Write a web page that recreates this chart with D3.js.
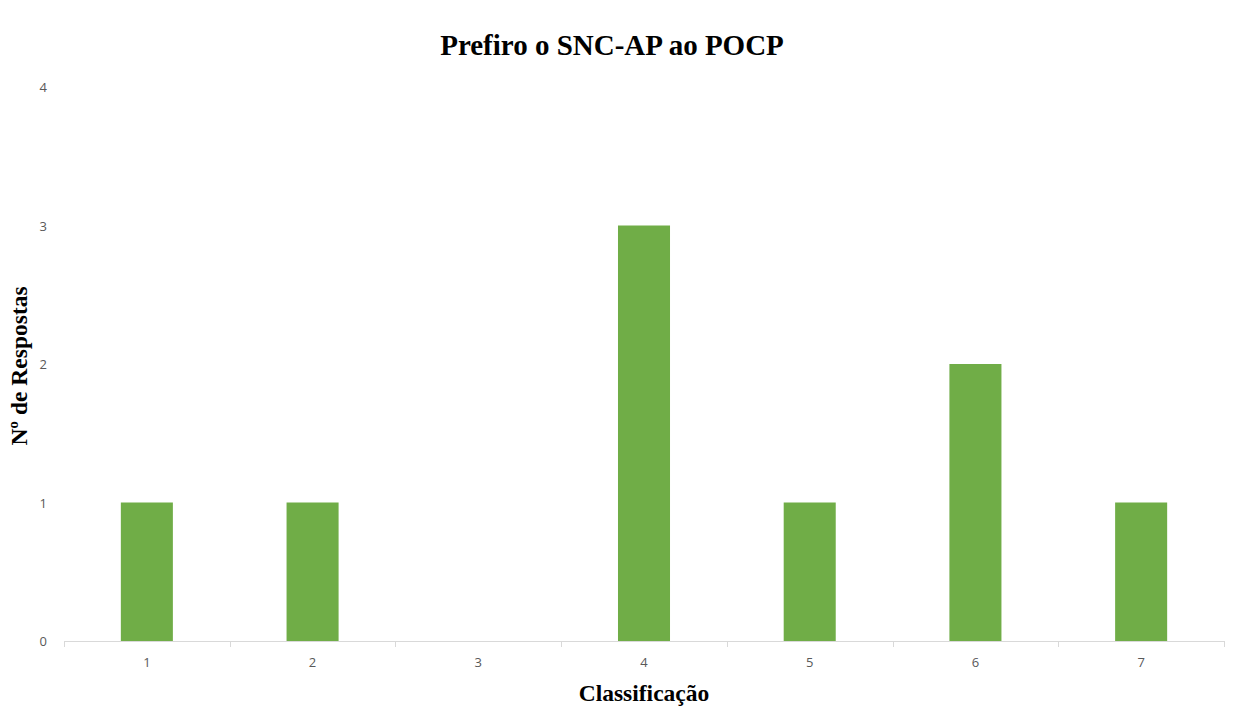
<!DOCTYPE html>
<html>
<head>
<meta charset="utf-8">
<script src="https://cdn.jsdelivr.net/npm/d3@7"></script>
<style>
  html, body { margin: 0; padding: 0; background: #fff; }
</style>
</head>
<body>
<svg id="chart" width="1235" height="725"></svg>
<script>
// Survey responses per rating (1–7)
const categories = ["1", "2", "3", "4", "5", "6", "7"];
const responses = [1, 1, 0, 3, 1, 2, 1];
const yTicks = [0, 1, 2, 3, 4];

const chartTitle = "Prefiro o SNC-AP ao POCP";
const xTitle = "Classificação";
const yTitle = "Nº de Respostas";

const svg = d3.select("#chart");
const plotLeft = 64, plotRight = 1224, plotTop = 87, plotBottom = 641;

const x = d3.scaleBand()
  .domain(categories)
  .range([plotLeft, plotRight])
  .paddingInner(0.686)
  .paddingOuter(0.343);

const y = d3.scaleLinear().domain([0, 4]).range([plotBottom, plotTop]);

// Bars
svg.append("g")
  .selectAll("rect")
  .data(categories.map((c, i) => ({ c, v: responses[i] })))
  .join("rect")
  .attr("x", d => x(d.c))
  .attr("y", d => y(d.v))
  .attr("width", x.bandwidth())
  .attr("height", d => y(0) - y(d.v))
  .attr("fill", "#70AD47");

// X axis: baseline with ticks at category boundaries
const step = x.step();
const boundaries = d3.range(categories.length + 1).map(i => plotLeft + i * step);
const xAxis = svg.append("g");
xAxis.append("line")
  .attr("x1", plotLeft).attr("x2", plotRight)
  .attr("y1", plotBottom + 0.5).attr("y2", plotBottom + 0.5)
  .attr("stroke", "#d9d9d9").attr("stroke-width", 1);
xAxis.selectAll("line.tick")
  .data(boundaries)
  .join("line")
  .attr("class", "tick")
  .attr("x1", d => Math.round(d) + 0.5).attr("x2", d => Math.round(d) + 0.5)
  .attr("y1", plotBottom).attr("y2", plotBottom + 6)
  .attr("stroke", "#d9d9d9").attr("stroke-width", 1);
xAxis.selectAll("text")
  .data(categories)
  .join("text")
  .attr("x", d => x(d) + x.bandwidth() / 2)
  .attr("y", plotBottom + 26)
  .attr("text-anchor", "middle")
  .attr("font-family", "'Open Sans', 'Liberation Sans', sans-serif")
  .attr("font-size", 13)
  .attr("fill", "#595959")
  .text(d => d);

// Y axis labels (no axis line)
svg.append("g")
  .selectAll("text")
  .data(yTicks)
  .join("text")
  .attr("x", 47)
  .attr("y", d => y(d) + 5)
  .attr("text-anchor", "end")
  .attr("font-family", "'Open Sans', 'Liberation Sans', sans-serif")
  .attr("font-size", 13)
  .attr("fill", "#595959")
  .text(d => d);

// Titles
svg.append("text")
  .attr("x", 612).attr("y", 55)
  .attr("text-anchor", "middle")
  .attr("font-family", "'Liberation Serif', 'Times New Roman', serif")
  .attr("font-weight", "bold")
  .attr("font-size", 29)
  .attr("fill", "#000")
  .text(chartTitle);

svg.append("text")
  .attr("x", (plotLeft + plotRight) / 2).attr("y", 701)
  .attr("text-anchor", "middle")
  .attr("font-family", "'Liberation Serif', 'Times New Roman', serif")
  .attr("font-weight", "bold")
  .attr("font-size", 23.5)
  .attr("fill", "#000")
  .text(xTitle);

svg.append("text")
  .attr("transform", "translate(27,366) rotate(-90)")
  .attr("text-anchor", "middle")
  .attr("font-family", "'Liberation Serif', 'Times New Roman', serif")
  .attr("font-weight", "bold")
  .attr("font-size", 23.5)
  .attr("fill", "#000")
  .text(yTitle);
</script>
</body>
</html>
